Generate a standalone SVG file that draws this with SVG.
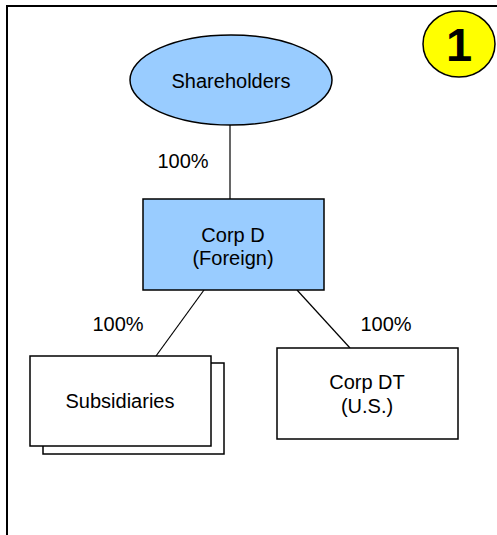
<svg xmlns="http://www.w3.org/2000/svg" width="497" height="535" viewBox="0 0 497 535">
<style>
text{font-family:"Liberation Sans",Arial,sans-serif;font-size:20px;fill:#000;text-anchor:middle}
.n{stroke:#000;stroke-width:1.5}
.blue{fill:#99CCFF}
.white{fill:#fff}
.c{stroke:#000;stroke-width:1.2;fill:none}
</style>
<rect x="0" y="0" width="497" height="535" fill="#fff"/>
<rect x="7" y="6" width="500" height="545" fill="none" stroke="#000" stroke-width="2"/>
<g id="badge">
<ellipse cx="459" cy="44" rx="36" ry="33" fill="#FFFF00" stroke="#000" stroke-width="1.5"/>
<text x="459" y="61" style="font-size:47px;font-weight:bold">1</text>
</g>
<g id="connectors">
<line class="c" x1="230" y1="125" x2="230" y2="200"/>
<line class="c" x1="204" y1="290" x2="156" y2="356"/>
<line class="c" x1="297" y1="290" x2="350" y2="348"/>
<text x="183" y="168">100%</text>
<text x="118" y="331">100%</text>
<text x="386" y="331">100%</text>
</g>
<g id="shareholders">
<ellipse class="n blue" cx="231" cy="80" rx="101" ry="45"/>
<text x="231" y="88">Shareholders</text>
</g>
<g id="corpD">
<rect class="n blue" x="143" y="199" width="181" height="91"/>
<text x="233" y="242">Corp D</text>
<text x="233" y="265">(Foreign)</text>
</g>
<g id="subsidiaries">
<rect class="n white" x="43" y="363" width="181" height="91"/>
<rect class="n white" x="30" y="356" width="181" height="90"/>
<text x="120" y="408">Subsidiaries</text>
</g>
<g id="corpDT">
<rect class="n white" x="277" y="348" width="181" height="91"/>
<text x="367" y="389">Corp DT</text>
<text x="367" y="413">(U.S.)</text>
</g>
</svg>
